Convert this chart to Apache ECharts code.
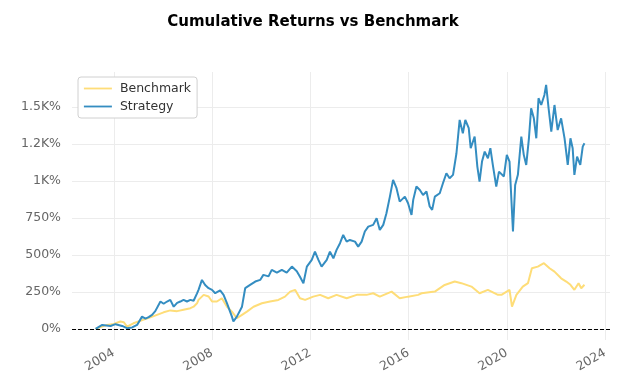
<!DOCTYPE html>
<html>
<head>
<meta charset="utf-8">
<script src="https://cdn.jsdelivr.net/npm/echarts@6/dist/echarts.min.js"></script>
<style>
  html, body { margin: 0; padding: 0; background: #fff; }
  #chart { width: 626px; height: 384px; }
</style>
</head>
<body>
<div id="chart"></div>
<script>
// ---- data (decimal years, cumulative return in %) ----
var strategyYears = [2003.26,2003.53,2003.87,2004.07,2004.34,2004.54,2004.61,2004.75,2004.95,2005.15,2005.29,2005.42,2005.56,2005.69,2005.90,2006.03,2006.17,2006.30,2006.44,2006.58,2006.71,2006.84,2006.98,2007.12,2007.25,2007.39,2007.45,2007.59,2007.72,2007.86,2008.00,2008.13,2008.33,2008.47,2008.61,2008.81,2008.87,2009.01,2009.22,2009.35,2009.55,2009.76,2009.96,2010.09,2010.30,2010.43,2010.64,2010.84,2011.04,2011.25,2011.45,2011.58,2011.72,2011.86,2012.06,2012.19,2012.33,2012.46,2012.67,2012.80,2012.94,2013.07,2013.21,2013.34,2013.48,2013.61,2013.82,2013.95,2014.09,2014.22,2014.36,2014.56,2014.70,2014.83,2014.97,2015.10,2015.24,2015.37,2015.51,2015.64,2015.71,2015.85,2015.98,2016.12,2016.19,2016.32,2016.46,2016.59,2016.73,2016.86,2016.96,2017.07,2017.27,2017.40,2017.54,2017.67,2017.81,2017.95,2018.08,2018.21,2018.31,2018.45,2018.53,2018.69,2018.80,2018.89,2018.99,2019.10,2019.23,2019.33,2019.43,2019.57,2019.68,2019.75,2019.88,2020.00,2020.11,2020.25,2020.34,2020.45,2020.59,2020.69,2020.79,2020.90,2020.99,2021.10,2021.20,2021.29,2021.40,2021.53,2021.60,2021.70,2021.81,2021.94,2022.07,2022.21,2022.35,2022.48,2022.59,2022.68,2022.75,2022.86,2022.99,2023.09,2023.16];
var strategyValues = [0,27,20,32,20,5,0,10,27,83,70,80,95,120,185,170,185,196,150,176,185,196,185,196,190,240,264,331,297,275,264,241,260,230,173,83,50,83,150,275,297,320,331,365,355,399,380,399,380,421,390,353,309,421,466,522,466,421,466,522,477,534,579,635,590,601,590,556,590,658,691,703,748,669,703,782,894,1007,951,860,872,894,849,770,872,962,939,905,928,827,804,894,917,984,1052,1018,1041,1187,1412,1322,1412,1356,1221,1300,1097,995,1131,1198,1153,1221,1108,962,1063,1063,1030,1176,1131,658,973,1041,1300,1176,1108,1288,1491,1423,1288,1559,1513,1581,1649,1491,1333,1513,1344,1423,1288,1108,1288,1221,1041,1164,1108,1232,1255];

var benchmarkYears = [2003.26,2003.73,2004.00,2004.27,2004.41,2004.54,2004.80,2005.22,2005.49,2005.76,2006.03,2006.30,2006.58,2006.84,2007.12,2007.25,2007.39,2007.45,2007.66,2007.86,2008.00,2008.20,2008.40,2008.61,2008.81,2009.01,2009.22,2009.42,2009.69,2010.03,2010.36,2010.70,2010.97,2011.18,2011.38,2011.58,2011.79,2012.12,2012.40,2012.73,2013.07,2013.48,2013.89,2014.29,2014.56,2014.83,2015.31,2015.64,2015.98,2016.39,2016.53,2017.07,2017.47,2017.88,2018.15,2018.56,2018.89,2019.23,2019.64,2019.78,2020.11,2020.21,2020.39,2020.65,2020.86,2021.02,2021.26,2021.51,2021.74,2021.94,2022.21,2022.42,2022.59,2022.75,2022.92,2023.03,2023.16];
var benchmarkValues = [0,27,34,50,45,15,38,63,78,95,112,125,120,130,140,150,173,196,230,219,185,185,207,150,117,72,95,117,150,173,185,196,218,252,264,207,196,218,230,207,230,207,230,230,241,218,252,207,218,230,241,252,297,320,309,286,241,264,230,230,264,150,230,286,309,410,421,444,410,387,342,320,298,264,309,275,298];

var yTickValues = [0,250,500,750,1000,1250,1500];
var yTickLabels = ['0%','250%','500%','750%','1K%','1.2K%','1.5K%'];
var xTickValues = [2004,2008,2012,2016,2020,2024];
var xTickLabels = ['2004','2008','2012','2016','2020','2024'];

function pairs(xs, ys) {
  var out = [];
  for (var i = 0; i < xs.length; i++) out.push([xs[i], ys[i]]);
  return out;
}

var chart = echarts.init(document.getElementById('chart'), null, { renderer: 'canvas' });
var font = 'DejaVu Sans';
chart.setOption({
  animation: false,
  backgroundColor: '#ffffff',
  title: {
    text: 'Cumulative Returns vs Benchmark',
    left: 'center',
    top: 10,
    textStyle: { fontFamily: font, fontSize: 15, fontWeight: 'bold', color: '#000' }
  },
  legend: {
    orient: 'vertical',
    left: 78,
    top: 77,
    padding: [5, 6, 5, 5],
    itemWidth: 28,
    itemHeight: 14,
    itemGap: 5,
    backgroundColor: '#fff',
    borderColor: '#d0d0d0',
    borderWidth: 1,
    borderRadius: 3,
    itemStyle: { opacity: 0 },
    lineStyle: { width: 1.8 },
    textStyle: { fontFamily: font, fontSize: 12.5, color: '#333', padding: [0, 0, 0, 3] },
    data: ['Benchmark', 'Strategy']
  },
  grid: { left: 72, right: 16, top: 72, bottom: 44 },
  xAxis: {
    type: 'value',
    min: 2002.3,
    max: 2024.2,
    axisLine: { show: false },
    axisTick: { show: false, customValues: xTickValues },
    splitLine: { show: true, lineStyle: { color: '#ececec', width: 1 } },
    axisLabel: {
      customValues: xTickValues,
      rotate: 30,
      margin: 12,
      fontFamily: font,
      fontSize: 12.5,
      color: '#666',
      formatter: function (v) { var i = xTickValues.indexOf(Math.round(v)); return i >= 0 ? xTickLabels[i] : ''; }
    }
  },
  yAxis: {
    type: 'value',
    min: -75,
    max: 1736,
    axisLine: { show: false },
    axisTick: { show: false, customValues: yTickValues },
    splitLine: { show: true, lineStyle: { color: '#ececec', width: 1 } },
    axisLabel: {
      customValues: yTickValues,
      margin: 11,
      fontFamily: font,
      fontSize: 12.5,
      color: '#666',
      formatter: function (v) { var i = yTickValues.indexOf(Math.round(v)); return i >= 0 ? yTickLabels[i] : ''; }
    }
  },
  series: [
    {
      name: 'Benchmark',
      type: 'line',
      data: pairs(benchmarkYears, benchmarkValues),
      symbol: 'none',
      color: '#fedd78',
      lineStyle: { color: '#fedd78', width: 2 },
      z: 2
    },
    {
      name: 'Strategy',
      type: 'line',
      data: pairs(strategyYears, strategyValues),
      symbol: 'none',
      color: '#348dc1',
      lineStyle: { color: '#348dc1', width: 2 },
      z: 3,
      markLine: {
        silent: true,
        symbol: 'none',
        label: { show: false },
        lineStyle: { color: '#000', type: [4, 2], width: 1 },
        data: [{ yAxis: 0 }]
      }
    }
  ]
});
</script>
</body>
</html>
